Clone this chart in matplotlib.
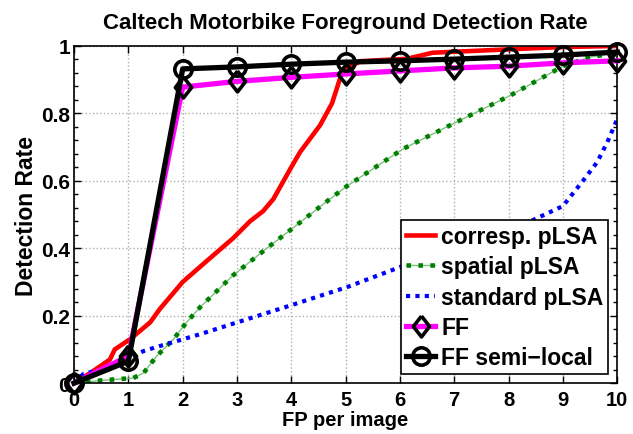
import numpy as np
import matplotlib.pyplot as plt
from matplotlib.ticker import MultipleLocator
from matplotlib.legend_handler import HandlerTuple

plt.rcParams['font.family'] = ['Liberation Sans', 'DejaVu Sans']
plt.rcParams['font.weight'] = 'bold'

# corresp. pLSA
corr_x = [0, 0.3, 0.66, 0.75, 1.03, 1.4, 1.58, 2.0, 2.32, 2.93, 3.24, 3.48, 3.67, 3.98, 4.16,
          4.53, 4.75, 4.86, 4.94, 5.27, 6.13, 6.6, 8.0, 9.0, 10]
corr_y = [0, 0.03, 0.07, 0.10, 0.13, 0.18, 0.22, 0.30, 0.345, 0.43, 0.48, 0.51, 0.546, 0.635, 0.685,
          0.765, 0.83, 0.885, 0.925, 0.955, 0.962, 0.98, 0.99, 0.997, 1.0]

# spatial pLSA
spat_x = [0, 0.5, 1.09, 1.28, 1.52, 1.83, 2.07, 2.32, 2.93, 3.55, 4.03, 4.71, 5.03, 6.06, 7.05,
          8.03, 9.0, 9.5, 10]
spat_y = [0, 0.008, 0.015, 0.03, 0.08, 0.13, 0.18, 0.225, 0.32, 0.40, 0.46, 0.546, 0.585, 0.695,
          0.775, 0.853, 0.94, 0.967, 0.98]

# standard pLSA
std_x = [0, 0.17, 0.48, 1.28, 1.58, 2.32, 3.0, 3.98, 5.03, 6.0, 7.0, 8.0, 8.4, 9.0, 9.37, 9.63,
         9.82, 10]
std_y = [0, 0.027, 0.04, 0.095, 0.11, 0.145, 0.18, 0.23, 0.285, 0.344, 0.40, 0.455, 0.48, 0.525,
         0.60, 0.655, 0.715, 0.783]

# FF and FF semi-local
ff_x = [0, 1, 2, 3, 4, 5, 6, 7, 8, 9, 10]
ff_y = [0, 0.08, 0.878, 0.895, 0.907, 0.917, 0.926, 0.935, 0.94, 0.95, 0.956]
semi_y = [0, 0.065, 0.932, 0.938, 0.946, 0.952, 0.956, 0.961, 0.967, 0.973, 0.982]

tall_diamond = [(0, 1), (0.78, 0), (0, -1), (-0.78, 0), (0, 1)]

fig = plt.figure(figsize=(6.33, 4.35), dpi=100)
ax = fig.add_axes([0.117, 0.117, 0.858, 0.775])

h_corr, = ax.plot(corr_x, corr_y, color='red', lw=3.3)
g_thin, = ax.plot(spat_x, spat_y, color='#80c080', lw=1)
g_dots, = ax.plot(spat_x, spat_y, color='green', lw=3.3, ls=(0, (1, 1.6)))
h_std, = ax.plot(std_x, std_y, color='blue', lw=3, ls=(0, (1, 1.25)))
h_ff, = ax.plot(ff_x, ff_y, color='magenta', lw=3.8, marker=tall_diamond, ms=15, mfc='none',
                mec='k', mew=2.6, clip_on=False, zorder=5)
h_semi, = ax.plot(ff_x, semi_y, color='k', lw=3.8, marker='o', ms=12.5, mfc='none', mec='k',
                  mew=2.6, clip_on=False, zorder=6)

ax.set_xlim(0, 10)
ax.set_ylim(0, 1)
ax.set_xticks(range(11))
ax.set_yticks([0, 0.2, 0.4, 0.6, 0.8, 1])
ax.set_yticklabels(['0', '0.2', '0.4', '0.6', '0.8', '1'])
ax.yaxis.set_minor_locator(MultipleLocator(0.04))
ax.tick_params(which='both', direction='in', top=True, right=True, width=1)
ax.tick_params(axis='x', labelsize=14.5, pad=5)
ax.tick_params(axis='y', labelsize=15, pad=3)
ax.tick_params(which='major', length=5)
ax.tick_params(which='minor', length=3)
ax.grid(True, which='major', ls=':', color='#b0b0b0', lw=1)
for s in ax.spines.values():
    s.set_linewidth(1.2)

ax.set_xlabel('FP per image', fontsize=14.5, fontweight='bold', labelpad=1)
ax.set_ylabel('Detection Rate', fontsize=16.5, fontweight='bold', labelpad=2)
ax.set_title('Caltech Motorbike Foreground Detection Rate', fontsize=16, fontweight='bold', pad=13)

leg = ax.legend([h_corr, (g_thin, g_dots), h_std, h_ff, h_semi],
                ['corresp. pLSA', 'spatial pLSA', 'standard pLSA', 'FF', 'FF semi\u2212local'],
                handler_map={tuple: HandlerTuple(ndivide=1, pad=0)},
                loc='lower right', fontsize=16.5, numpoints=1, handlelength=1.3, handletextpad=0.25,
                borderpad=0.2, labelspacing=0.32, fancybox=False, edgecolor='k',
                framealpha=1, borderaxespad=0.4)
leg.get_frame().set_linewidth(1.2)

fig.savefig('out.png', dpi=100)
